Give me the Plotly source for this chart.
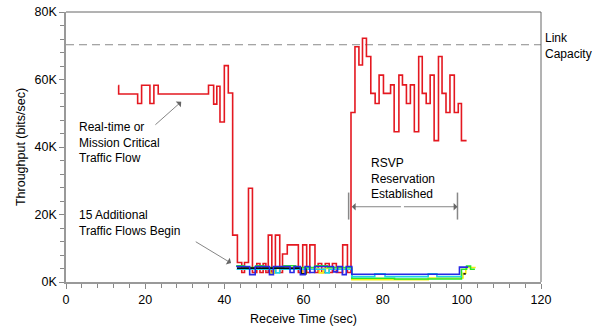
import plotly.graph_objects as go

# ---------------- data ----------------
red_t = [13.2, 13.3, 18.1, 19.1, 21.2, 22.2, 23.3, 36.0, 37.3, 38.1, 38.9, 40.0, 41.0, 42.1,
         43.3, 44.4, 45.1, 46.1, 47.1, 48.2, 49.0, 49.8, 50.5, 51.1, 52.0, 52.9, 54.0, 54.7,
         55.9, 58.7, 59.8, 60.8, 61.6, 62.9, 63.7, 64.6, 65.5, 66.5, 67.3, 68.3, 69.9, 71.1,
         72.0, 73.0, 74.0, 74.9, 75.9, 77.0, 78.1, 79.1, 80.2, 82.0, 82.9, 84.1, 85.0, 86.0,
         87.0, 88.0, 89.1, 90.0, 91.0, 92.0, 93.0, 94.1, 95.0, 96.0, 97.0, 98.1, 99.1, 99.9, 101.2]
red_v = [58200, 55700, 52900, 58300, 52900, 58300, 55700, 58300, 52700, 58000, 47400, 64100, 56000, 13900,
         5800, 2800, 5800, 27800, 2800, 5500, 2800, 5500, 2800, 13900, 2800, 13900, 2800, 8300,
         11000, 2800, 11000, 2800, 11000, 2800, 5500, 2800, 5500, 2800, 5500, 2800, 11000, 2800,
         50200, 69700, 64300, 72200, 66800, 55900, 52900, 61300, 55900, 58400, 44500, 61300, 58400, 52900,
         58400, 44500, 66800, 55900, 52900, 61300, 41900, 66800, 55900, 50200, 61300, 50200, 52900, 41900, 41900]

green_t = [43.0, 45.0, 48.0, 50.0, 55.0, 58.0, 63.0, 66.0, 72.2, 83.0, 99.9, 101.2, 102.2, 103.3]
green_v = [4800, 4300, 4800, 4300, 4800, 4300, 4800, 4300, 1100, 900, 3800, 4700, 3800, 3800]

yellow_t = [43.2, 51.6, 52.6, 59.6, 60.6, 64.0, 65.0, 72.2, 91.5, 100.3, 101.0, 103.5]
yellow_v = [4000, 2600, 4000, 2600, 4000, 2700, 4000, 700, 1200, 2600, 4300, 4300]

cyan_t = [43.1, 53.0, 54.0, 65.5, 66.5, 72.2, 78.0, 80.6, 91.5, 93.7, 100.0]
cyan_v = [3800, 2700, 3800, 2700, 3800, 1600, 2400, 1600, 2400, 1600, 1600]

black_t = [43.2, 59.4, 60.6, 72.2, 100.4, 100.4, 101.0]
black_v = [4100, 2400, 4100, None, None, 2400, 2400]

blue_t = [43.0, 46.4, 47.8, 51.4, 52.4, 56.6, 57.6, 59.2, 60.4, 61.6, 62.8, 67.6, 68.6, 69.8, 70.8,
          72.2, 99.4, 101.6]
blue_v = [4600, 2200, 4600, 2200, 4600, 2800, 4600, 2200, 4600, 2800, 4600, 3000, 4600, 2200, 4600,
          2300, 4400, 4400]

link_capacity = 70300
x_ticks = [0, 20, 40, 60, 80, 100, 120]
y_ticks = [0, 20000, 40000, 60000, 80000]
y_tick_text = ["0K", "20K", "40K", "60K", "80K"]

FONT = "Liberation Sans, Arial, sans-serif"

fig = go.Figure()

fig.add_trace(go.Scatter(x=[0, 120], y=[link_capacity, link_capacity], mode="lines",
                         line=dict(color="#8a8a8a", width=1, dash="8px,5px"),
                         hoverinfo="skip", showlegend=False))


def add(t, v, color, width=1.6):
    fig.add_trace(go.Scatter(x=t, y=v, mode="lines", connectgaps=False,
                             line=dict(color=color, width=width, shape="hv"),
                             hoverinfo="skip", showlegend=False))


add(red_t, red_v, "rgb(228,24,32)")
add(yellow_t, yellow_v, "rgb(245,240,20)")
add(green_t, green_v, "rgb(40,230,40)")
add(cyan_t, cyan_v, "rgb(30,210,230)")
add(black_t, black_v, "rgb(10,10,10)")
add(blue_t, blue_v, "rgb(40,40,230)")

annots = []
txt = dict(font=dict(family=FONT, size=12, color="black"), showarrow=False, align="left",
           xanchor="left", yanchor="middle")
annots.append(dict(text="Link<br>Capacity", xref="paper", yref="y", x=1.004, y=link_capacity - 300, **txt))
annots.append(dict(text="Real-time or<br>Mission Critical<br>Traffic Flow", xref="x", yref="y",
                   x=2.8, y=41200, **txt))
annots.append(dict(text="15 Additional<br>Traffic Flows Begin", xref="x", yref="y",
                   x=2.8, y=17500, **txt))
annots.append(dict(text="RSVP<br>Reservation<br>Established", xref="x", yref="y",
                   x=76.5, y=30800, **txt))
# arrows
arr = dict(showarrow=True, arrowhead=1, arrowsize=1.6, arrowwidth=0.8, arrowcolor="#666",
           text="", xref="x", yref="y", axref="x", ayref="y")
annots.append(dict(x=29.1, y=53400, ax=22.2, ay=46200, **arr))
annots.append(dict(x=41.7, y=5600, ax=32.4, ay=12200, **arr))
annots.append(dict(x=72.2, y=22300, ax=85.0, ay=22300, **arr))
annots.append(dict(x=98.9, y=22300, ax=85.0, ay=22300, **arr))

shapes = [
    dict(type="line", xref="paper", yref="paper", x0=0, x1=1, y0=1, y1=1, line=dict(color="#666", width=1)),
    dict(type="line", xref="paper", yref="paper", x0=1, x1=1, y0=0, y1=1, line=dict(color="#666", width=1)),
    dict(type="line", xref="x", yref="y", x0=71.4, x1=71.4, y0=18500, y1=26500, line=dict(color="#888", width=1.5)),
    dict(type="line", xref="x", yref="y", x0=98.9, x1=98.9, y0=18500, y1=26500, line=dict(color="#888", width=1.5)),
]

fig.update_layout(
    width=608, height=328,
    margin=dict(l=66, r=67, t=12, b=46),
    paper_bgcolor="white", plot_bgcolor="white",
    font=dict(family=FONT, size=12, color="black"),
    annotations=annots, shapes=shapes,
    xaxis=dict(range=[0, 120], tickvals=x_ticks, showgrid=False, zeroline=False, automargin=False,
               showline=True, linecolor="#999", linewidth=1.5,
               ticks="outside", ticklen=5, tickcolor="#888", tickwidth=1,
               minor=dict(dtick=4, ticks="outside", ticklen=4, tickcolor="#888", showgrid=False),
               tickfont=dict(size=12.5),
               title=dict(text="Receive Time (sec)", font=dict(size=12.5), standoff=8)),
    yaxis=dict(range=[0, 80000], tickvals=y_ticks, ticktext=y_tick_text, showgrid=False, zeroline=False,
               automargin=False,
               showline=True, linecolor="#999", linewidth=1.5,
               ticks="outside", ticklen=5, tickcolor="#888", tickwidth=1,
               minor=dict(dtick=4000, ticks="outside", ticklen=4, tickcolor="#888", showgrid=False),
               tickfont=dict(size=12.5),
               title=dict(text="Throughput (bits/sec)", font=dict(size=12.5), standoff=6)),
)

fig.write_html("out.html")
